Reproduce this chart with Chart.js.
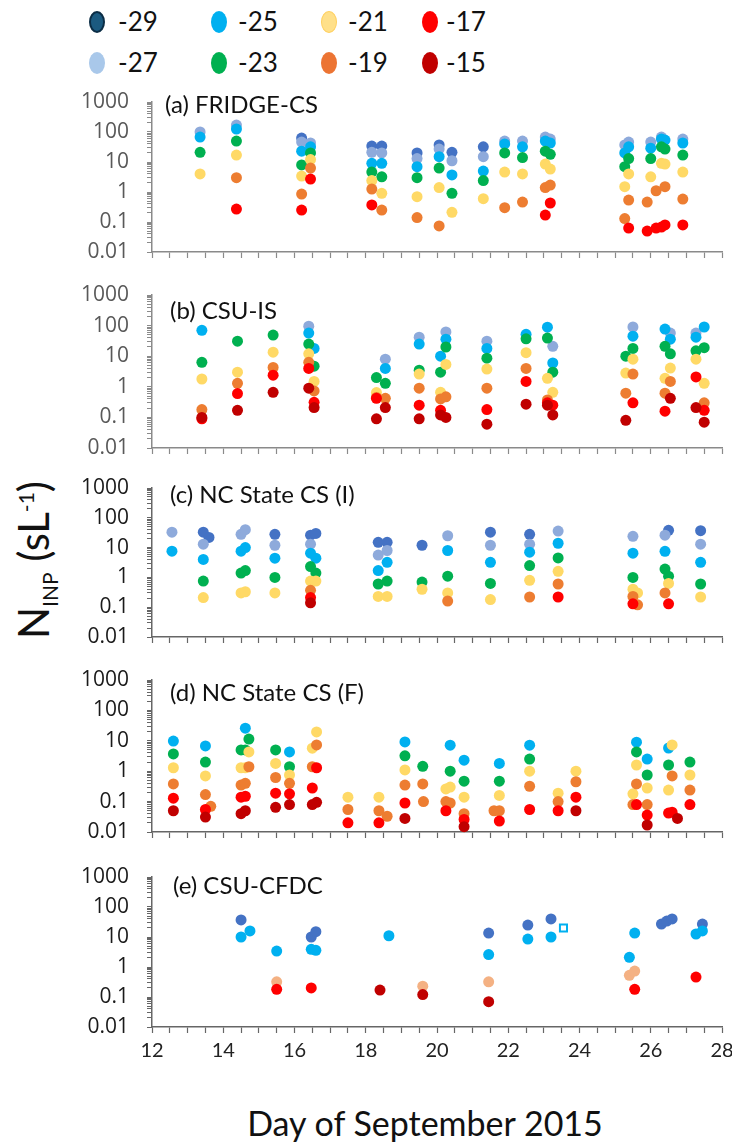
<!DOCTYPE html>
<html>
<head>
<meta charset="utf-8">
<script src="https://cdn.jsdelivr.net/npm/chart.js@4.4.1/dist/chart.umd.min.js"></script>
<style>
  body { margin: 0; background: #fff; }
  #page { position: relative; width: 732px; height: 1147px; overflow: hidden; font-family: Lato, "Open Sans", sans-serif; }
  #page canvas { position: absolute; left: 0; }
  .ptitle { position: absolute; font-size: 24px; line-height: 24px; color: #111; white-space: nowrap; }
  .lg-dot { position: absolute; width: 16px; height: 22px; border-radius: 50%; box-sizing: border-box; }
  .lg-txt { position: absolute; font-size: 26px; line-height: 26px; color: #111; }
  #ytitle { position: absolute; left: 35px; top: 560px; transform: translate(-50%, -50%) rotate(-90deg); font-size: 42px; color: #111; white-space: nowrap; }
  #ytitle sub, #ytitle sup { font-size: 21px; }
  #xtitle { position: absolute; left: 425px; top: 1102px; transform: translateX(-50%); font-size: 34px; color: #111; white-space: nowrap; }
</style>
</head>
<body>
<div id="page">
  <div id="legend"></div>
  <div id="ytitle">N<sub>INP</sub> (sL<sup>-1</sup>)</div>
  <div id="xtitle">Day of September 2015</div>
</div>
<script>
// temperatures (deg C) and their colours
const temps = ['-29', '-27', '-25', '-23', '-21', '-19', '-17', '-15'];
const pointColors = ['#4472c4', '#8eaadb', '#00b0f0', '#00b050', '#ffd966', '#ed7d31', '#ff0000', '#c00000'];
const legendColors = ['#1b5a80', '#a9c8ea', '#00b0f0', '#00b050', '#ffe08a', '#ec7433', '#ff0000', '#c00000'];
const yTickLabels = ['0.01', '0.1', '1', '10', '100', '1000'];
const xTickLabels = ['12', '14', '16', '18', '20', '22', '24', '26', '28'];

// rows: [day, -29, -27, -25, -23, -21, -19, -17, -15]
const fridgeCS = [
  [13.35, null, 100, 68, 21, 4, null, null, null],
  [14.37, null, 170, 126, 50, 17, 3, 0.27, null],
  [16.2, 63, 46, 23, 8, 3.4, 0.85, 0.25, null],
  [16.45, null, 43, 32, 20, 12, 6.3, 2.7, null],
  [18.17, 34, 21, 9, 4.6, 2.4, 1.25, 0.37, null],
  [18.45, 34, 20, 9, 3.2, 0.9, 0.25, null, null],
  [19.44, 20, 13, 7, 3, 0.7, 0.14, null, null],
  [20.06, 37, 27, 15, 6.3, 1.4, 0.074, null, null],
  [20.42, 21, 11, 3.7, 0.9, 0.21, null, null, null],
  [21.3, 32, 15, 5, 2.4, 0.6, null, null, null],
  [21.9, null, 50, 40, 20, 4.6, 0.3, null, null],
  [22.4, null, 50, 32, 14, 4, 0.46, null, null],
  [23.04, null, 68, 50, 23, 8.5, 1.4, 0.17, null],
  [23.18, null, 58, 43, 18, 5.8, 1.7, 0.43, null],
  [25.27, null, 37, 20, 7, 1.5, 0.13, null, null],
  [25.38, null, 46, 32, 13, 4, 0.54, 0.063, null],
  [25.9, null, null, null, null, null, 0.46, 0.05, null],
  [26.0, null, 46, 29, 13, 3.2, null, null, null],
  [26.15, null, null, null, null, null, 1.1, 0.063, null],
  [26.3, null, 68, 58, 32, 9, null, 0.068, null],
  [26.4, null, null, 54, 27, 8.5, 1.5, 0.08, null],
  [26.9, null, 58, 43, 17, 4.6, 0.58, 0.08, null]
];

const csuIS = [
  [13.4, null, null, 70, 6.3, 1.8, 0.18, 0.09, 0.1],
  [14.4, null, null, null, 31, 3, 1.3, 0.6, 0.17],
  [15.4, null, null, null, 49, 13.5, 4.3, 2.4, 0.66],
  [16.4, null, 96, 57, 25, 12, 6.3, 4, 0.9],
  [16.55, null, null, 18, 4.7, 1.5, 0.73, 0.31, 0.21],
  [18.3, null, null, null, 2, 0.65, 0.45, 0.42, 0.09],
  [18.55, null, 8, 4, 1.3, null, 0.42, null, 0.21],
  [19.5, null, 42, 25, 3.5, 2.6, 0.9, 0.25, 0.09],
  [20.1, null, null, 10, 3, 0.66, 0.4, 0.17, 0.12],
  [20.25, null, 62, 36, 20, 5.4, 0.47, null, 0.1],
  [21.4, null, 31, 18, 8.6, 3.8, 0.9, 0.18, 0.06],
  [22.5, null, null, 52, 37, 13, 4, 1.5, 0.27],
  [23.1, null, null, 89, 39, 1.9, 0.37, 0.3, 0.25],
  [23.25, null, 21, 6, 3, 0.66, null, 0.25, 0.12],
  [25.3, null, null, null, 10, 2.8, 0.62, null, 0.08],
  [25.5, null, 90, 45, 18, 8, 2.6, 0.3, null],
  [26.4, null, null, 77, 21, 1.9, 0.62, 0.16, null],
  [26.55, null, 57, 36, 12, 4.1, 1.5, null, 0.42],
  [27.27, null, 57, 42, 15, 8, null, 2.1, 0.21],
  [27.5, null, null, 90, 19, 1.3, 0.3, 0.17, 0.07]
];

const ncStateI = [
  [12.56, null, 33, 7.6, null, null, null, null, null],
  [13.44, 33, 13, 4, 0.75, 0.21, null, null, null],
  [13.6, 22, null, null, null, null, null, null, null],
  [14.5, null, 28, 7.6, 1.4, 0.3, null, null, null],
  [14.62, null, 40, 10, 1.7, 0.33, null, null, null],
  [15.45, 28, 12, 4.4, 1.0, 0.3, null, null, null],
  [16.45, 26, 13, 6.5, 2.3, 0.75, 0.37, 0.21, 0.14],
  [16.6, 30, null, 4.4, 1.4, 0.75, null, null, null],
  [18.35, 15, 5.6, 1.7, 0.6, 0.23, null, null, null],
  [18.6, 15, 8, 3.2, 0.75, 0.23, null, null, null],
  [19.58, 12, null, null, 0.7, 0.4, null, null, null],
  [20.3, null, 25, 8, 1.1, 0.3, 0.16, null, null],
  [21.5, 33, 12, 3.2, 0.63, 0.18, null, null, null],
  [22.6, 28, 13, 7, 2.5, 0.8, 0.22, null, null],
  [23.4, null, 36, 14, 4.5, 1.6, 0.6, 0.22, null],
  [25.5, null, 24, 6.5, 1, 0.4, 0.23, 0.13, null],
  [25.63, null, null, null, null, 0.3, 0.12, null, null],
  [26.4, null, 26, 7.5, 1.9, null, 0.3, null, null],
  [26.5, 38, null, null, 1.1, 0.63, null, 0.13, null],
  [27.4, 37, 13, 3.2, 0.6, 0.22, null, null, null]
];

const ncStateF = [
  [12.6, null, null, 9.8, 3.7, 1.3, 0.38, 0.13, 0.05],
  [13.5, null, null, 6.8, 2, 0.7, 0.17, 0.055, 0.031],
  [13.65, null, null, null, null, null, 0.07, null, null],
  [14.5, null, null, null, 5, 1.3, 0.35, 0.14, 0.04],
  [14.62, null, null, 26, 5, 1.3, 0.4, 0.15, 0.05],
  [14.72, null, null, null, 11.4, 4.3, 1.4, null, null],
  [15.47, null, null, null, 5, 1.8, 0.62, 0.19, 0.065],
  [15.86, null, null, 4.3, 1.4, 0.75, 0.4, 0.18, 0.08],
  [16.5, null, null, null, null, 5.7, 1.4, 0.28, 0.08],
  [16.62, null, null, null, null, 19.5, 7.3, 1.3, 0.095],
  [17.5, null, null, null, null, 0.14, 0.055, 0.02, null],
  [18.37, null, null, null, null, 0.14, 0.05, 0.02, null],
  [18.6, null, null, null, null, null, 0.033, null, null],
  [19.1, null, null, 9.2, 3.2, 1.1, 0.35, 0.09, 0.028],
  [19.6, null, null, null, 1.45, null, 0.38, null, null],
  [19.62, null, null, null, null, null, 0.1, null, null],
  [20.25, null, null, null, null, 0.26, 0.1, 0.05, null],
  [20.37, null, null, 7.2, 1.0, 0.3, 0.09, null, null],
  [20.76, null, null, 2.3, 0.47, 0.14, 0.04, 0.026, 0.015],
  [21.6, null, null, null, null, null, 0.05, null, null],
  [21.75, null, null, 1.8, 0.47, 0.16, 0.05, 0.023, null],
  [22.6, null, null, 7.2, 2.5, 1.0, 0.32, 0.055, null],
  [23.4, null, null, null, null, 0.19, 0.1, 0.05, null],
  [23.9, null, null, null, null, 1.0, 0.45, 0.14, 0.05],
  [25.5, null, null, null, null, 0.18, 0.08, null, null],
  [25.6, null, null, 9, 4.3, 1.6, 0.38, 0.08, null],
  [25.9, null, null, 2.5, 0.75, 0.28, 0.08, 0.036, 0.017],
  [26.5, null, null, 5.8, 1.6, 0.24, null, 0.042, null],
  [26.6, null, null, null, null, 7.3, 0.7, 0.045, null],
  [26.75, null, null, null, null, null, null, null, 0.028],
  [27.1, null, null, null, 2, 0.75, 0.24, 0.08, null]
];

const csuCFDC = [
  [14.5, 37, null, 10, null, null, null, null, null],
  [14.75, null, null, 16, null, null, null, null, null],
  [15.5, null, null, 3.4, null, null, 0.32, 0.18, null],
  [16.47, 10, null, 3.9, null, null, null, 0.2, null],
  [16.6, 15, null, 3.6, null, null, null, null, null],
  [18.4, null, null, null, null, null, null, null, 0.17],
  [18.65, null, null, 11, null, null, null, null, null],
  [19.6, null, null, null, null, null, 0.23, null, 0.12],
  [21.45, 13.5, null, 2.6, null, null, 0.32, null, 0.07],
  [22.55, 25, null, 8.5, null, null, null, null, null],
  [23.2, 40, null, 10, null, null, null, null, null],
  [25.4, null, null, 2.1, null, null, 0.53, null, null],
  [25.55, null, null, 13.5, null, null, 0.73, 0.18, null],
  [26.3, 27, null, null, null, null, null, null, null],
  [26.45, 34, null, null, null, null, null, null, null],
  [26.6, 40, null, null, null, null, null, null, null],
  [27.27, null, null, 12.6, null, null, null, 0.46, null],
  [27.45, 27, null, 16, null, null, null, null, null]
];
// open square in panel (e)
const cfdcOpenDays = [23.55];
const cfdcOpenVals = [20];

const panels = [
  { title: '(a) FRIDGE-CS', rows: fridgeCS, top: 102, bottom: 252, titleX: 165, titleY: 104, tickColor: '#595959', axisColor: '#8a8a8a' },
  { title: '(b) CSU-IS', rows: csuIS, top: 295, bottom: 448, titleX: 170, titleY: 310, tickColor: '#595959', axisColor: '#8a8a8a' },
  { title: '(c) NC State CS (I)', rows: ncStateI, top: 488, bottom: 637, titleX: 170, titleY: 494, tickColor: '#1a1a1a', axisColor: '#666' },
  { title: '(d) NC State CS (F)', rows: ncStateF, top: 680, bottom: 832, titleX: 170, titleY: 692, tickColor: '#1a1a1a', axisColor: '#666' },
  { title: '(e) CSU-CFDC', rows: csuCFDC, top: 877, bottom: 1027, titleX: 173, titleY: 885, tickColor: '#1a1a1a', axisColor: '#666', xLabels: true, colorOverride: { 5: '#f4b183' } }
];

const page = document.getElementById('page');

// legend
const legend = document.getElementById('legend');
const legendDotX = [97, 219, 329, 430];
const legendTextX = [118, 238, 348, 446];
const legendRowY = [22, 63];
temps.forEach((t, i) => {
  const col = Math.floor(i / 2), row = i % 2;
  const dot = document.createElement('div');
  dot.className = 'lg-dot';
  dot.style.left = (legendDotX[col] - 8) + 'px';
  dot.style.top = (legendRowY[row] - 11) + 'px';
  dot.style.background = legendColors[i];
  if (i === 0) dot.style.border = '2px solid #0b2d45';
  if (i === 4) dot.style.border = '1.5px solid #ffd060';
  legend.appendChild(dot);
  const txt = document.createElement('div');
  txt.className = 'lg-txt';
  txt.style.left = legendTextX[col] + 'px';
  txt.style.top = (legendRowY[row] - 14) + 'px';
  txt.textContent = t;
  legend.appendChild(txt);
});

// tick positions
const xTicks = [];
for (let v = 12; v <= 28; v += 0.5) xTicks.push(v);
const yTicks = [];
for (let e = -2; e <= 2; e++) for (let m = 1; m <= 9; m++) yTicks.push(m * Math.pow(10, e));
yTicks.push(1000);

function seriesFrom(rows, col) {
  return rows.filter(r => r[col + 1] != null).map(r => ({ x: r[0], y: r[col + 1] }));
}

panels.forEach((p) => {
  const xH = p.xLabels ? 40 : 10;
  const padTop = 16, padBottom = 4;
  const canvas = document.createElement('canvas');
  canvas.width = 732;
  canvas.height = (p.bottom - p.top) + padTop + xH + padBottom;
  canvas.style.top = (p.top - padTop) + 'px';
  page.appendChild(canvas);

  const title = document.createElement('div');
  title.className = 'ptitle';
  title.style.left = p.titleX + 'px';
  title.style.top = (p.titleY - 12) + 'px';
  title.textContent = p.title;
  page.appendChild(title);

  const datasets = temps.map((t, i) => {
    const c = (p.colorOverride && p.colorOverride[i]) || pointColors[i];
    return {
      label: t,
      data: seriesFrom(p.rows, i),
      pointRadius: 5.5,
      pointBorderWidth: 0,
      pointBackgroundColor: c,
      backgroundColor: c,
      order: 8 - i,
      clip: false
    };
  });
  if (p.xLabels) {
    datasets.push({
      label: 'open',
      data: cfdcOpenDays.map((d, k) => ({ x: d, y: cfdcOpenVals[k] })),
      pointStyle: 'rect',
      pointRadius: 5,
      pointBorderWidth: 2,
      pointBorderColor: '#00b0f0',
      pointBackgroundColor: '#fff',
      order: 0,
      clip: false
    });
  }

  new Chart(canvas, {
    type: 'scatter',
    data: { datasets },
    options: {
      responsive: false,
      animation: false,
      layout: { padding: { left: 0, right: 10, top: padTop, bottom: padBottom } },
      plugins: { legend: { display: false }, tooltip: { enabled: false } },
      scales: {
        x: {
          type: 'linear', min: 12, max: 28,
          afterBuildTicks: s => { s.ticks = xTicks.map(v => ({ value: v })); },
          afterFit: s => { s.height = xH; s.paddingLeft = 0; s.paddingRight = 0; },
          grid: { drawOnChartArea: false, tickLength: 6, color: p.axisColor, tickWidth: 1.2 },
          border: { display: true, color: p.axisColor, width: 1.5 },
          ticks: {
            autoSkip: false, maxRotation: 0, padding: 6,
            color: '#222', font: { family: 'Lato', size: 20 },
            callback: v => (p.xLabels && v % 2 === 0) ? xTickLabels[(v - 12) / 2] : ''
          }
        },
        y: {
          type: 'logarithmic', min: 0.01, max: 1000,
          afterBuildTicks: s => { s.ticks = yTicks.map(v => ({ value: v })); },
          afterFit: s => { s.width = 152; s.paddingTop = 13; s.paddingBottom = 13; },
          grid: { drawOnChartArea: false, tickLength: 5, color: p.axisColor, tickWidth: 1 },
          border: { display: true, color: p.axisColor, width: 1.5 },
          ticks: {
            autoSkip: false, padding: 18,
            color: p.tickColor, font: { family: 'Open Sans', size: 21 },
            callback: v => {
              const l = Math.log10(v), e = Math.round(l);
              return Math.abs(l - e) < 1e-6 ? yTickLabels[e + 2] : '';
            }
          }
        }
      }
    }
  });
});
</script>
</body>
</html>
